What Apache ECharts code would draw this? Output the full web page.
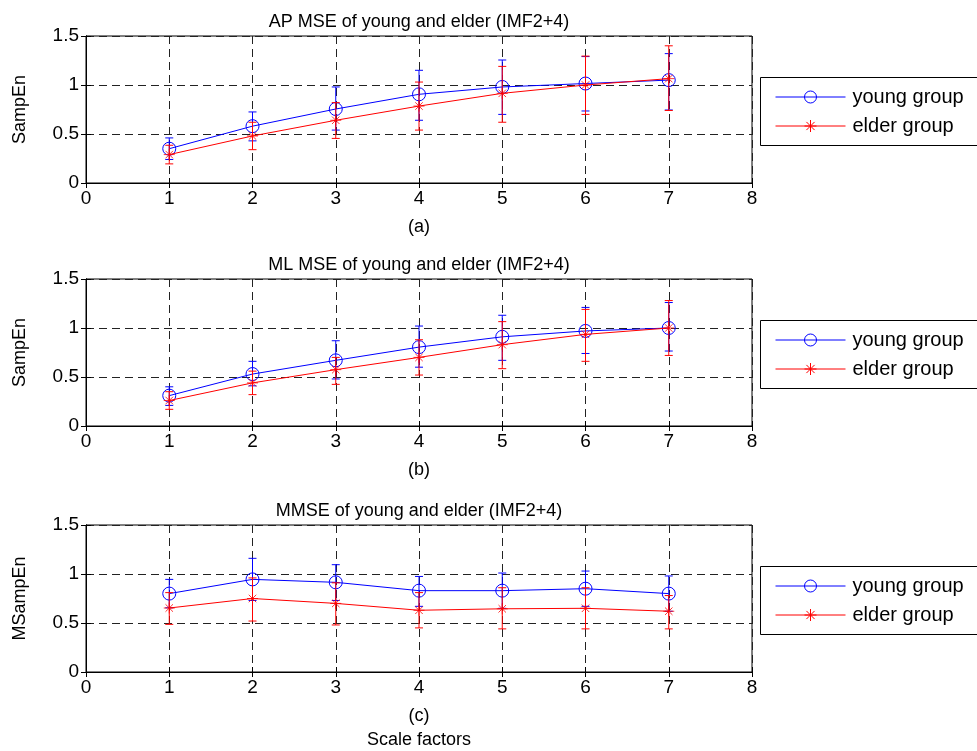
<!DOCTYPE html>
<html><head><meta charset="utf-8">
<script src="https://cdn.jsdelivr.net/npm/echarts@6/dist/echarts.min.js"></script>
<style>html,body{margin:0;padding:0;background:#fff}#c{width:977px;height:751px}</style>
</head><body><div id="c"></div>
<script>
const scales = [1, 2, 3, 4, 5, 6, 7];
const xTicks = [0, 1, 2, 3, 4, 5, 6, 7, 8];
const yTicks = [0, 0.5, 1, 1.5];

// (a) AP MSE
const apYoungMean = [0.35, 0.58, 0.755, 0.905, 0.98, 1.015, 1.05];
const apYoungLow  = [0.24, 0.43, 0.54, 0.64, 0.70, 0.735, 0.745];
const apYoungHigh = [0.46, 0.725, 0.98, 1.15, 1.255, 1.29, 1.32];
const apElderMean = [0.29, 0.48, 0.64, 0.785, 0.915, 1.00, 1.065];
const apElderLow  = [0.195, 0.34, 0.455, 0.54, 0.62, 0.70, 0.74];
const apElderHigh = [0.385, 0.62, 0.82, 1.03, 1.19, 1.295, 1.40];

// (b) ML MSE
const mlYoungMean = [0.31, 0.53, 0.67, 0.805, 0.91, 0.97, 1.00];
const mlYoungLow  = [0.21, 0.41, 0.48, 0.60, 0.67, 0.74, 0.765];
const mlYoungHigh = [0.40, 0.66, 0.87, 1.02, 1.13, 1.21, 1.26];
const mlElderMean = [0.26, 0.44, 0.575, 0.70, 0.83, 0.935, 1.00];
const mlElderLow  = [0.17, 0.32, 0.425, 0.52, 0.585, 0.66, 0.72];
const mlElderHigh = [0.35, 0.56, 0.70, 0.88, 1.065, 1.19, 1.28];

// (c) MMSE
const mmYoungMean = [0.80, 0.945, 0.915, 0.83, 0.83, 0.85, 0.80];
const mmYoungLow  = [0.655, 0.73, 0.73, 0.67, 0.65, 0.67, 0.62];
const mmYoungHigh = [0.945, 1.16, 1.095, 0.975, 1.01, 1.03, 0.98];
const mmElderMean = [0.653, 0.75, 0.70, 0.63, 0.645, 0.65, 0.62];
const mmElderLow  = [0.486, 0.52, 0.48, 0.45, 0.44, 0.44, 0.44];
const mmElderHigh = [0.81, 0.96, 0.91, 0.81, 0.86, 0.86, 0.78];

const titles = ['AP MSE of young and elder (IMF2+4)', 'ML MSE of young and elder (IMF2+4)', 'MMSE of young and elder (IMF2+4)'];
const subLabels = ['(a)', '(b)', '(c)'];
const yNames = ['SampEn', 'SampEn', 'MSampEn'];
const legendNames = ['young group', 'elder group'];
const xAxisTitle = 'Scale factors';

const panels = [
  {ym: apYoungMean, yl: apYoungLow, yh: apYoungHigh, em: apElderMean, el: apElderLow, eh: apElderHigh},
  {ym: mlYoungMean, yl: mlYoungLow, yh: mlYoungHigh, em: mlElderMean, el: mlElderLow, eh: mlElderHigh},
  {ym: mmYoungMean, yl: mmYoungLow, yh: mmYoungHigh, em: mmElderMean, el: mmElderLow, eh: mmElderHigh}
];

const FONT = 'Liberation Sans, Arial, sans-serif';
const BLUE = '#0000ff', RED = '#ff0000';
const gridTops = [36, 279, 525];
const gridH = 147;
const STAR = 'path://M5,0L5,10M0,5L10,5M1.6,1.6L8.4,8.4M1.6,8.4L8.4,1.6';
const GRIDLINE = {color: '#222', type: [8, 5], width: 1};

function errRender(color) {
  return function (params, api) {
    const x = api.value(0);
    const p1 = api.coord([x, api.value(1)]);
    const p2 = api.coord([x, api.value(2)]);
    const w = 4;
    const st = {stroke: color, lineWidth: 1};
    return {type: 'group', children: [
      {type: 'line', shape: {x1: p1[0], y1: p1[1], x2: p2[0], y2: p2[1]}, style: st},
      {type: 'line', shape: {x1: p1[0] - w, y1: p1[1], x2: p1[0] + w, y2: p1[1]}, style: st},
      {type: 'line', shape: {x1: p2[0] - w, y1: p2[1], x2: p2[0] + w, y2: p2[1]}, style: st}
    ]};
  };
}

const grid = [], xAxis = [], yAxis = [], series = [], title = [], legend = [], graphic = [];
panels.forEach((p, i) => {
  grid.push({left: 86, width: 666, top: gridTops[i], height: gridH, show: true, borderColor: '#000', borderWidth: 1, backgroundColor: '#fff'});
  xAxis.push({
    type: 'value', gridIndex: i, min: 0, max: 8, interval: 1,
    name: subLabels[i], nameLocation: 'middle', nameGap: 35,
    nameTextStyle: {fontFamily: FONT, fontSize: 18, color: '#000'},
    axisLine: {show: true, lineStyle: {color: '#000', width: 1}},
    axisTick: {show: true, inside: true, length: 5, lineStyle: {color: '#000'}},
    axisLabel: {fontFamily: FONT, fontSize: 19, color: '#000', margin: 6,
      formatter: v => String(xTicks[xTicks.indexOf(v)] ?? v)},
    splitLine: {show: true, lineStyle: GRIDLINE}
  });
  xAxis.push({
    type: 'value', gridIndex: i, min: 0, max: 8, interval: 1, position: 'top',
    axisLine: {show: true, lineStyle: {color: '#000'}},
    axisTick: {show: true, inside: true, length: 5, lineStyle: {color: '#000'}},
    axisLabel: {show: false}, splitLine: {show: false}
  });
  yAxis.push({
    type: 'value', gridIndex: i, min: 0, max: 1.5, interval: 0.5,
    name: yNames[i], nameLocation: 'middle', nameGap: 57, nameRotate: 90,
    nameTextStyle: {fontFamily: FONT, fontSize: 18, color: '#000'},
    axisLine: {show: true, lineStyle: {color: '#000', width: 1}},
    axisTick: {show: true, inside: true, length: 5, lineStyle: {color: '#000'}},
    axisLabel: {fontFamily: FONT, fontSize: 19, color: '#000', margin: 7,
      formatter: v => String(yTicks[yTicks.indexOf(v)] ?? v)},
    splitLine: {show: true, lineStyle: GRIDLINE}
  });
  yAxis.push({
    type: 'value', gridIndex: i, min: 0, max: 1.5, interval: 0.5, position: 'right',
    axisLine: {show: true, lineStyle: {color: '#000'}},
    axisTick: {show: true, inside: true, length: 5, lineStyle: {color: '#000'}},
    axisLabel: {show: false}, splitLine: {show: false}
  });
  const xi = i * 2, yi = i * 2;
  series.push({
    type: 'custom', xAxisIndex: xi, yAxisIndex: yi, silent: true, z: 2,
    renderItem: errRender(BLUE), encode: {x: 0, y: [1, 2]},
    data: scales.map((x, k) => [x, p.yl[k], p.yh[k]])
  });
  series.push({
    type: 'line', name: legendNames[0], xAxisIndex: xi, yAxisIndex: yi, z: 3,
    data: scales.map((x, k) => [x, p.ym[k]]),
    symbol: 'circle', symbolSize: 13, showAllSymbol: true,
    lineStyle: {color: BLUE, width: 1},
    itemStyle: {color: 'rgba(255,255,255,0)', borderColor: BLUE, borderWidth: 1}
  });
  series.push({
    type: 'custom', xAxisIndex: xi, yAxisIndex: yi, silent: true, z: 4,
    renderItem: errRender(RED), encode: {x: 0, y: [1, 2]},
    data: scales.map((x, k) => [x, p.el[k], p.eh[k]])
  });
  series.push({
    type: 'line', name: legendNames[1], xAxisIndex: xi, yAxisIndex: yi, z: 5,
    data: scales.map((x, k) => [x, p.em[k]]),
    symbol: STAR, symbolSize: 11, showAllSymbol: true,
    lineStyle: {color: RED, width: 1},
    itemStyle: {color: RED, borderColor: RED, borderWidth: 0.8}
  });
  title.push({text: titles[i], left: 419, textAlign: 'center', top: gridTops[i] - 23, padding: 0,
    textStyle: {fontFamily: FONT, fontSize: 18, fontWeight: 'normal', color: '#000'}});
  const ly = gridTops[i] + 41;
  graphic.push({type: 'rect', left: 760, top: ly, shape: {width: 220, height: 68},
    style: {fill: '#fff', stroke: '#000', lineWidth: 1}, z: 0});
  legend.push({
    data: legendNames, left: 775, top: ly + 10, orient: 'vertical', padding: 0,
    itemWidth: 70, itemHeight: 15, itemGap: 9, selectedMode: false,
    lineStyle: {width: 1}, itemStyle: {borderWidth: 1},
    textStyle: {fontFamily: FONT, fontSize: 20, color: '#000', padding: [0, 0, 0, 2]}, z: 10
  });
});
title.push({text: xAxisTitle, left: 419, textAlign: 'center', top: 731, padding: 0,
  textStyle: {fontFamily: FONT, fontSize: 18, fontWeight: 'normal', color: '#000'}});

const chart = echarts.init(document.getElementById('c'), null, {renderer: 'canvas'});
chart.setOption({
  animation: false, backgroundColor: '#fff',
  grid, xAxis, yAxis, series, title, legend, graphic
});
</script></body></html>
